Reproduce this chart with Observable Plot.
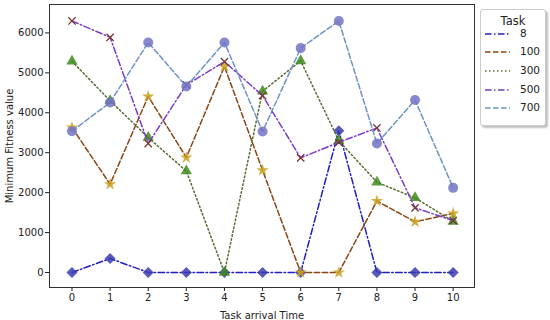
<!DOCTYPE html>
<html><head><meta charset="utf-8">
<script src="https://cdn.jsdelivr.net/npm/d3@7"></script>
<script src="https://cdn.jsdelivr.net/npm/@observablehq/plot@0.6"></script>
<style>
body{margin:0;background:#fff;font-family:"DejaVu Sans",sans-serif;}
#wrap{position:relative;width:550px;height:320px;}
#legend{position:absolute;left:480px;top:9px;width:66px;height:117px;border:1px solid #ccc;border-radius:3px;background:#fff;box-shadow:2px 2px 2px rgba(0,0,0,0.25);box-sizing:border-box;font-size:10.5px;color:#222;}
#legend .title{position:absolute;top:4px;left:0;width:100%;text-align:center;font-size:11.5px;}
#legend .row{position:absolute;left:3px;height:12px;}
#legend .row span{position:absolute;left:36px;top:-1px;}
</style>
</head><body><div id="wrap"><div id="legend"><div class="title">Task</div></div></div>
<script>
const times = [0, 1, 2, 3, 4, 5, 6, 7, 8, 9, 10];
const tasks = ["8", "100", "300", "500", "700"];
const task8   = [0, 350, 0, 0, 0, 0, 0, 3550, 0, 0, 0];
const task100 = [3630, 2210, 4410, 2880, 5160, 2560, 0, 0, 1790, 1270, 1480];
const task300 = [5290, 4300, 3380, 2540, 0, 4540, 5300, 3300, 2260, 1870, 1280];
const task500 = [6300, 5890, 3230, 4700, 5280, 4430, 2870, 3260, 3620, 1620, 1300];
const task700 = [3540, 4260, 5760, 4660, 5760, 3530, 5620, 6300, 3230, 4320, 2120];
const yTicks = [0, 1000, 2000, 3000, 4000, 5000, 6000];

const seriesValues = [task8, task100, task300, task500, task700];
const styles = [
  {stroke: "#1f1fc4", dash: "6.5,2.5,1.5,2.5", symbol: "diamond2", fill: "#3c3cb0", r: 5},
  {stroke: "#8b4513", dash: "5.5,2.5", symbol: "star", fill: "#c8a11e", r: 3.9},
  {stroke: "#556b2f", dash: "1.5,2.5", symbol: "triangle", fill: "#3f8a1c", r: 4.2},
  {stroke: "#7a3bc8", dash: "6.5,2.5,1.5,2.5", symbol: "times", fill: "#7a3535", r: 3.4},
  {stroke: "#6b93c8", dash: "5.5,2.5", symbol: "circle", fill: "#7373c4", r: 5}
];

const marks = [Plot.frame({stroke: "#333", strokeWidth: 1})];
tasks.forEach((t, i) => {
  const data = times.map((x, j) => ({x, y: seriesValues[i][j], task: t}));
  const s = styles[i];
  marks.push(Plot.line(data, {x: "x", y: "y", stroke: s.stroke, strokeWidth: 1.5, strokeDasharray: s.dash}));
  if (s.symbol === "times") {
    marks.push(Plot.dot(data, {x: "x", y: "y", symbol: "times", r: s.r, stroke: s.fill, strokeWidth: 1.3}));
  } else {
    marks.push(Plot.dot(data, {x: "x", y: "y", symbol: s.symbol, r: s.r, fill: s.fill, fillOpacity: 0.85, stroke: "none"}));
  }
});

const chart = Plot.plot({
  width: 550, height: 320,
  marginLeft: 49, marginRight: 76, marginTop: 4, marginBottom: 33,
  style: {fontFamily: "DejaVu Sans", fontSize: "10px", color: "#222", background: "#fff"},
  x: {domain: [-0.59, 10.56], ticks: times, tickFormat: d3.format("d"), tickSize: 4, tickPadding: 2,
      label: "Task arrival Time", labelAnchor: "center", labelArrow: "none", labelOffset: 31},
  y: {domain: [-376, 6712], ticks: yTicks, tickFormat: d3.format("d"), tickSize: 4, tickPadding: 2,
      label: "Minimum Fitness value", labelAnchor: "center", labelArrow: "none", labelOffset: 44},
  marks
});
const wrap = document.getElementById("wrap");
wrap.insertBefore(chart, wrap.firstChild);

const legend = document.getElementById("legend");
const rowTops = [33, 51, 70, 89, 107];
tasks.forEach((t, i) => {
  const s = styles[i];
  const row = document.createElement("div");
  row.className = "row";
  row.style.top = (rowTops[i] - 9 - 6) + "px";
  row.innerHTML = `<svg width="30" height="12" style="position:absolute;left:0;top:0"><line x1="1" y1="6" x2="26" y2="6" stroke="${s.stroke}" stroke-width="1.5" stroke-dasharray="${s.dash}"/></svg><span>${t}</span>`;
  legend.appendChild(row);
});
</script>
</body></html>
